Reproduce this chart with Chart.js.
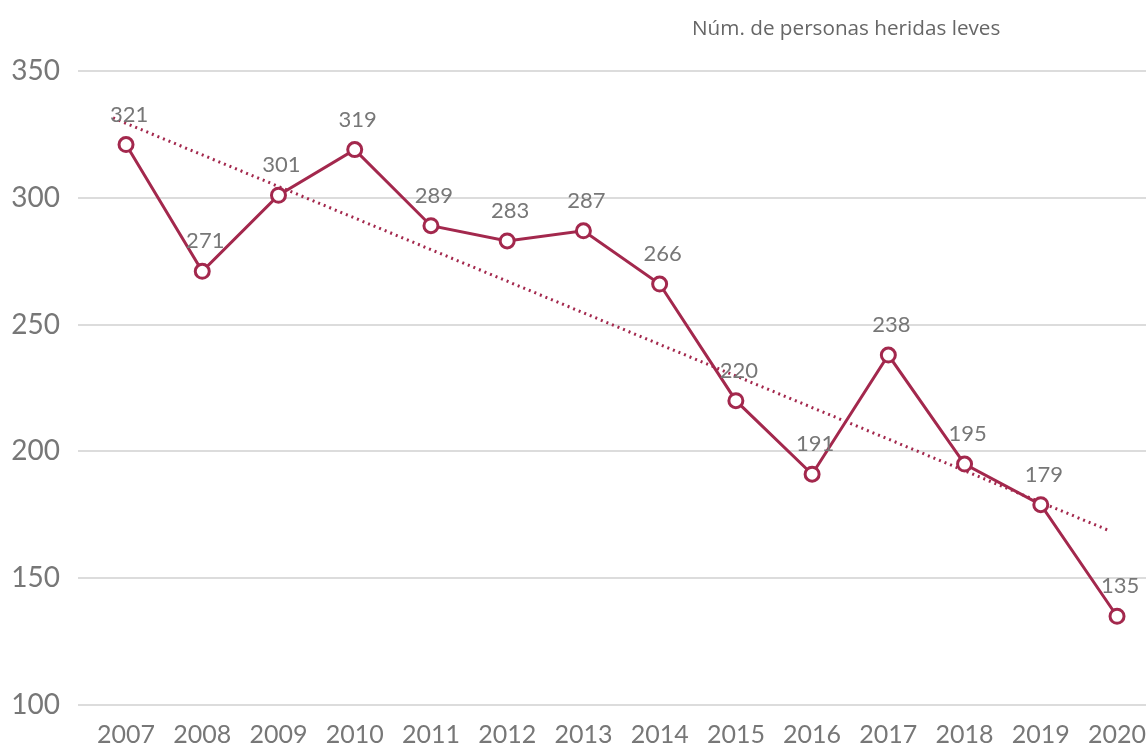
<!DOCTYPE html>
<html>
<head>
<meta charset="utf-8">
<script src="https://cdn.jsdelivr.net/npm/chart.js@4.4.1/dist/chart.umd.min.js"></script>
<style>
  html, body { margin: 0; padding: 0; background: #fff; }
  #wrap { position: relative; width: 1146px; height: 746px; }
  #title {
    position: absolute; left: 692px; top: 13px;
    font-family: "Open Sans", sans-serif; font-size: 20.7px; color: #666;
    white-space: nowrap;
  }
</style>
</head>
<body>
<div id="wrap">
  <div id="title">Núm. de personas heridas leves</div>
  <canvas id="chart" width="1146" height="746"></canvas>
</div>
<script>
// Data
const years = [2007, 2008, 2009, 2010, 2011, 2012, 2013, 2014, 2015, 2016, 2017, 2018, 2019, 2020];
const injured = [321, 271, 301, 319, 289, 283, 287, 266, 220, 191, 238, 195, 179, 135];
// trend line end points
const trendYears = [2006.83, 2019.91];
const trendValues = [331.5, 168.6];
const yTicks = [100, 150, 200, 250, 300, 350];

const lineColor = '#a3284d';
const textColor = '#777';

// value labels over the points
const pointLabels = {
    id: 'pointLabels',
    afterDatasetsDraw(chart) {
        const ctx = chart.ctx;
        const meta = chart.getDatasetMeta(0);
        ctx.save();
        ctx.font = '22px Lato, sans-serif';
        ctx.fillStyle = textColor;
        ctx.textAlign = 'center';
        ctx.textBaseline = 'middle';
        meta.data.forEach((pt, i) => {
            ctx.fillText(String(injured[i]), pt.x + 3, pt.y - 30);
        });
        ctx.restore();
    }
};

const ctx = document.getElementById('chart').getContext('2d');

new Chart(ctx, {
    type: 'line',
    data: {
        datasets: [{
            label: 'Heridos leves',
            data: years.map((y, i) => ({ x: y, y: injured[i] })),
            borderColor: lineColor,
            borderWidth: 3,
            pointRadius: 7,
            pointBorderWidth: 3,
            pointBackgroundColor: '#fff',
            pointBorderColor: lineColor,
            tension: 0,
            clip: false
        }, {
            label: 'Tendencia',
            data: trendYears.map((y, i) => ({ x: y, y: trendValues[i] })),
            borderColor: lineColor,
            borderWidth: 3,
            borderDash: [2, 4],
            pointRadius: 0
        }]
    },
    options: {
        responsive: false,
        animation: false,
        layout: { autoPadding: false, padding: { top: 71, left: 0, right: 0, bottom: 0 } },
        plugins: {
            legend: { display: false },
            tooltip: { enabled: false }
        },
        scales: {
            x: {
                type: 'linear',
                min: 2006.37,
                max: 2020.38,
                grid: { display: false },
                border: { display: false },
                afterBuildTicks: (axis) => {
                    axis.ticks = years.map(v => ({ value: v }));
                },
                afterFit: (axis) => {
                    axis.height = 41;
                    axis.paddingLeft = 0;
                    axis.paddingRight = 0;
                },
                ticks: {
                    padding: 7,
                    color: textColor,
                    font: { family: 'Lato, sans-serif', size: 25 },
                    maxRotation: 0,
                    autoSkip: false,
                    callback: (v) => String(v)
                }
            },
            y: {
                min: 100,
                max: 350,
                afterBuildTicks: (axis) => {
                    axis.ticks = yTicks.map(v => ({ value: v }));
                },
                afterFit: (axis) => { axis.width = 78; },
                grid: { color: '#dcdcdc', lineWidth: 2, drawTicks: false },
                border: { display: false },
                ticks: {
                    padding: 18,
                    color: textColor,
                    font: { family: 'Lato, sans-serif', size: 28 }
                }
            }
        }
    },
    plugins: [pointLabels]
});
</script>
</body>
</html>
